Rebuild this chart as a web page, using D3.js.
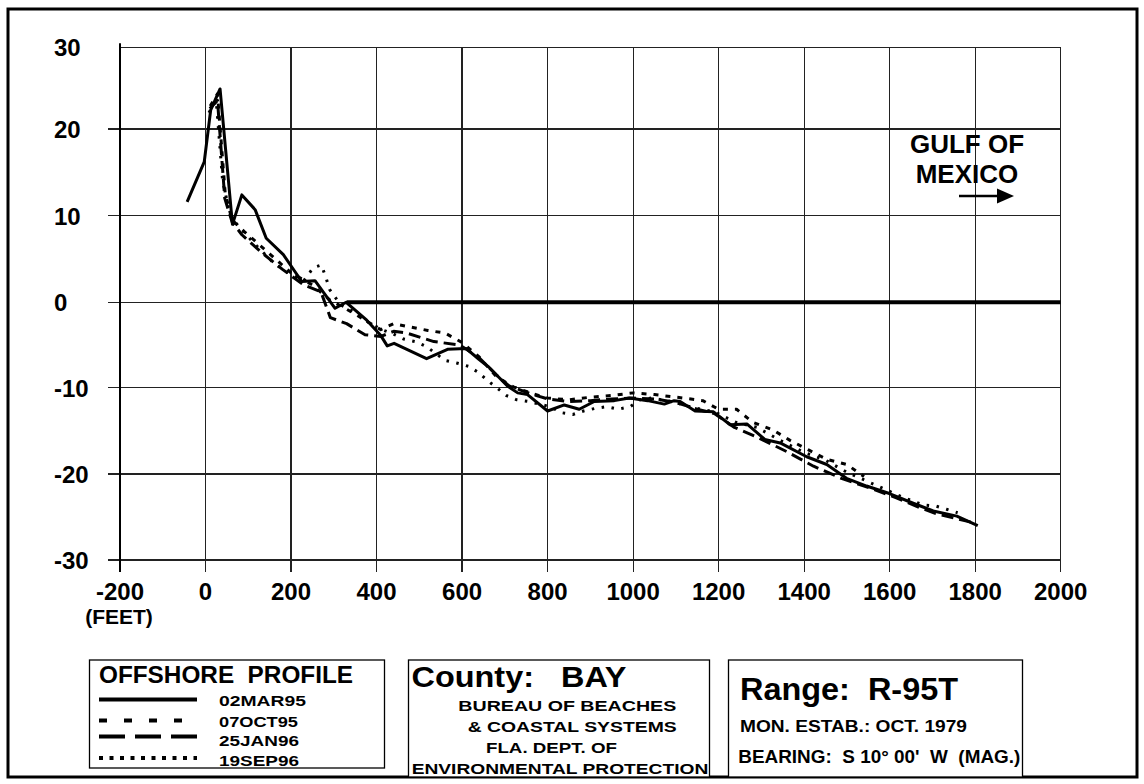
<!DOCTYPE html>
<html>
<head>
<meta charset="utf-8">
<script src="https://cdn.jsdelivr.net/npm/d3@7"></script>
<style>
  html, body { margin: 0; padding: 0; background: #fff; }
  svg { display: block; }
  text { font-family: "Liberation Sans", Arial, sans-serif; font-weight: bold; fill: #000; white-space: pre; }
</style>
</head>
<body>
<svg id="chart" width="1144" height="784"></svg>
<script>
// ---------------- DATA ----------------
const xTicks = [-200, 0, 200, 400, 600, 800, 1000, 1200, 1400, 1600, 1800, 2000];
const yTicks = [-30, -20, -10, 0, 10, 20, 30];
const seriesNames = ["02MAR95", "07OCT95", "25JAN96", "19SEP96"];

// distance (feet), elevation (feet)
const mar95 = [[-43,11.6],[-3,16.2],[12,22.3],[34,24.9],[63,9.0],[85,12.4],[116,10.7],[142,7.4],[182,5.5],[225,2.4],[256,2.5],[303,-0.7],[329,0],[377,-2.1],[410,-3.9],[425,-5.1],[441,-4.8],[517,-6.6],[566,-5.5],[609,-5.4],[640,-6.7],[663,-7.6],[706,-9.8],[730,-10.6],[753,-10.8],[800,-12.7],[839,-12.0],[874,-12.5],[909,-11.6],[956,-11.5],[991,-11.2],[1034,-11.5],[1073,-11.9],[1096,-11.5],[1110,-11.6],[1145,-12.7],[1188,-12.8],[1227,-14.3],[1266,-14.2],[1308,-16.0],[1344,-16.4],[1406,-18.0],[1453,-18.9],[1499,-20.5],[1546,-21.4],[1601,-22.3],[1655,-23.4],[1702,-24.3],[1757,-24.9],[1806,-26.0]];

const oct95 = [[11,22.8],[28,24.3],[46,12.6],[62,9.5],[90,8.2],[150,5.6],[200,3.4],[250,2.0],[290,0.3],[330,-0.8],[380,-2.3],[410,-3.2],[440,-2.5],[470,-2.8],[520,-3.3],[560,-3.6],[600,-4.7],[640,-6.4],[680,-8.7],[720,-9.9],[760,-10.6],[800,-11.2],[850,-11.4],[900,-11.1],[950,-10.9],[1000,-10.6],[1050,-10.8],[1117,-11.2],[1163,-11.5],[1200,-12.5],[1242,-12.5],[1280,-14.0],[1327,-14.9],[1367,-16.1],[1410,-17.2],[1453,-18.3],[1500,-18.9],[1540,-20.3]];

const jan96 = [[10,22.5],[28,23.5],[45,12.0],[62,9.3],[85,7.8],[130,5.8],[180,3.8],[230,2.0],[270,1.2],[292,-1.8],[330,-2.5],[373,-3.8],[410,-4.0],[440,-3.4],[470,-3.6],[534,-4.6],[595,-5.0],[640,-6.5],[680,-8.5],[710,-9.8],[760,-10.7],[800,-11.3],[850,-11.6],[900,-11.5],[950,-11.3],[1000,-11.2],[1050,-11.3],[1100,-11.7],[1150,-12.5],[1190,-13.0],[1237,-14.6],[1289,-15.7],[1359,-17.4],[1422,-19.1],[1487,-20.5],[1552,-21.6],[1617,-22.8],[1670,-23.9],[1708,-24.6],[1749,-25.1],[1790,-25.6]];

const sep96 = [[8,22.0],[25,23.5],[40,14.0],[58,10.0],[80,8.6],[120,6.5],[160,4.5],[200,3.2],[230,2.5],[252,4.0],[271,4.3],[282,2.8],[290,1.5],[316,-0.3],[350,-1.2],[380,-2.3],[412,-3.2],[439,-3.7],[463,-4.3],[490,-4.6],[517,-5.2],[560,-6.8],[587,-7.1],[615,-7.5],[638,-8.2],[658,-9.1],[681,-10.0],[703,-10.9],[728,-11.4],[755,-11.6],[806,-12.2],[833,-12.9],[859,-13.1],[884,-12.7],[911,-12.4],[938,-12.2],[965,-12.5],[993,-12.2],[1016,-11.4],[1043,-11.2],[1090,-11.6],[1140,-12.3],[1190,-12.8],[1240,-14.0],[1290,-14.6],[1340,-16.0],[1400,-17.5],[1450,-18.4],[1500,-19.8],[1577,-21.5],[1630,-22.7],[1679,-23.6],[1706,-23.7],[1733,-24.1],[1759,-24.5]];

const waterLine = [[330,0],[2000,0]];

const legendDashes = ["none", "8,17", "26,10", "4,6.5"];
const chartDashes  = ["none", "5,7", "12,6", "2.5,7.5"];

// ---------------- SETUP ----------------
const svg = d3.select("#chart");
const x = d3.scaleLinear().domain([-200, 2000]).range([120, 1060.7]);
const y = d3.scaleLinear().domain(yTicks).range([560, 474, 387.7, 302.3, 215.7, 129, 47.3]);

// outer border
svg.append("rect").attr("x", 8).attr("y", 9).attr("width", 1129).attr("height", 768)
  .attr("fill", "none").attr("stroke", "#000").attr("stroke-width", 3);

// grid
const grid = svg.append("g").attr("stroke", "#222").attr("stroke-width", 1.2).attr("shape-rendering", "crispEdges");
grid.selectAll(".vg").data(xTicks).join("line")
  .attr("x1", d => x(d)).attr("x2", d => x(d))
  .attr("y1", y(30)).attr("y2", y(-30) + 12);
grid.selectAll(".hg").data(yTicks).join("line")
  .attr("x1", d => d === 30 ? x(-200) : x(-200) - 12).attr("x2", x(2000))
  .attr("y1", d => y(d)).attr("y2", d => y(d));

// left axis line (slightly heavier)
svg.append("line").attr("x1", x(-200)).attr("x2", x(-200))
  .attr("y1", y(30) - 4).attr("y2", y(-30) + 12)
  .attr("stroke", "#000").attr("stroke-width", 2);

// tick labels
svg.selectAll(".xl").data(xTicks).join("text")
  .attr("x", d => x(d)).attr("y", 600)
  .attr("text-anchor", "middle").attr("font-size", 24)
  .text(d => d);
svg.append("text").attr("x", 119).attr("y", 624).attr("text-anchor", "middle")
  .attr("font-size", 21).text("(FEET)");
svg.selectAll(".yl").data(yTicks).join("text")
  .attr("x", 54).attr("y", d => y(d) + 9)
  .attr("font-size", 24)
  .text(d => d);

// water line
const line = d3.line().x(d => x(d[0])).y(d => y(d[1]));
svg.append("path").attr("d", line(waterLine)).attr("fill", "none")
  .attr("stroke", "#000").attr("stroke-width", 4);

// profiles
const allSeries = [mar95, oct95, jan96, sep96];
svg.append("g").selectAll("path").data(allSeries).join("path")
  .attr("d", d => line(d))
  .attr("fill", "none").attr("stroke", "#000")
  .attr("stroke-width", 3)
  .attr("stroke-linejoin", "round")
  .attr("stroke-dasharray", (d, i) => chartDashes[i]);

// Gulf of Mexico annotation
svg.append("text").attr("x", 967).attr("y", 153).attr("text-anchor", "middle")
  .attr("font-size", 26).text("GULF OF");
svg.append("text").attr("x", 967).attr("y", 183).attr("text-anchor", "middle")
  .attr("font-size", 26).text("MEXICO");
svg.append("line").attr("x1", 959).attr("x2", 999).attr("y1", 196).attr("y2", 196)
  .attr("stroke", "#000").attr("stroke-width", 2.5);
svg.append("path").attr("d", "M997,188.5 L1014,196 L997,203.5 Z").attr("fill", "#000");

// ---------------- BOXES ----------------
function box(x0, y0, w, h) {
  svg.append("rect").attr("x", x0).attr("y", y0).attr("width", w).attr("height", h)
    .attr("fill", "#fff").attr("stroke", "#000").attr("stroke-width", 1.3);
}
function txt(str, x0, y0, size, len) {
  const t = svg.append("text").attr("x", x0).attr("y", y0).attr("font-size", size).text(str);
  if (len) t.attr("textLength", len).attr("lengthAdjust", "spacingAndGlyphs");
  return t;
}

// legend box
box(89.5, 660, 295, 108);
txt("OFFSHORE  PROFILE", 99, 683, 24, 254);
const legY = [699.5, 720.5, 736.5, 758];
const legTextY = [706, 727, 746, 766];
const legLen = [87, 79, 80, 80];
seriesNames.forEach((n, i) => {
  svg.append("line").attr("x1", 99).attr("x2", 197).attr("y1", legY[i]).attr("y2", legY[i])
    .attr("stroke", "#000").attr("stroke-width", 4)
    .attr("stroke-dasharray", legendDashes[i]);
  txt(n, 219, legTextY[i], 15, legLen[i]);
});

// county box
box(408.5, 660, 301, 117);
txt("County:   BAY", 411.5, 687, 29, 215);
txt("BUREAU OF BEACHES", 458.3, 710.7, 15.5, 218);
txt("& COASTAL SYSTEMS", 467.7, 731.7, 15.5, 209);
txt("FLA. DEPT. OF", 486, 753.3, 15.5, 131);
txt("ENVIRONMENTAL PROTECTION", 411.7, 774.3, 15.5, 296.6);

// range box
box(728.5, 660, 294, 117);
txt("Range:  R-95T", 740, 700, 32, 218);
txt("MON. ESTAB.: OCT. 1979", 740, 731.7, 17, 227);
txt("BEARING:  S 10° 00'  W  (MAG.)", 738.3, 763.3, 18, 282);
</script>
</body>
</html>
